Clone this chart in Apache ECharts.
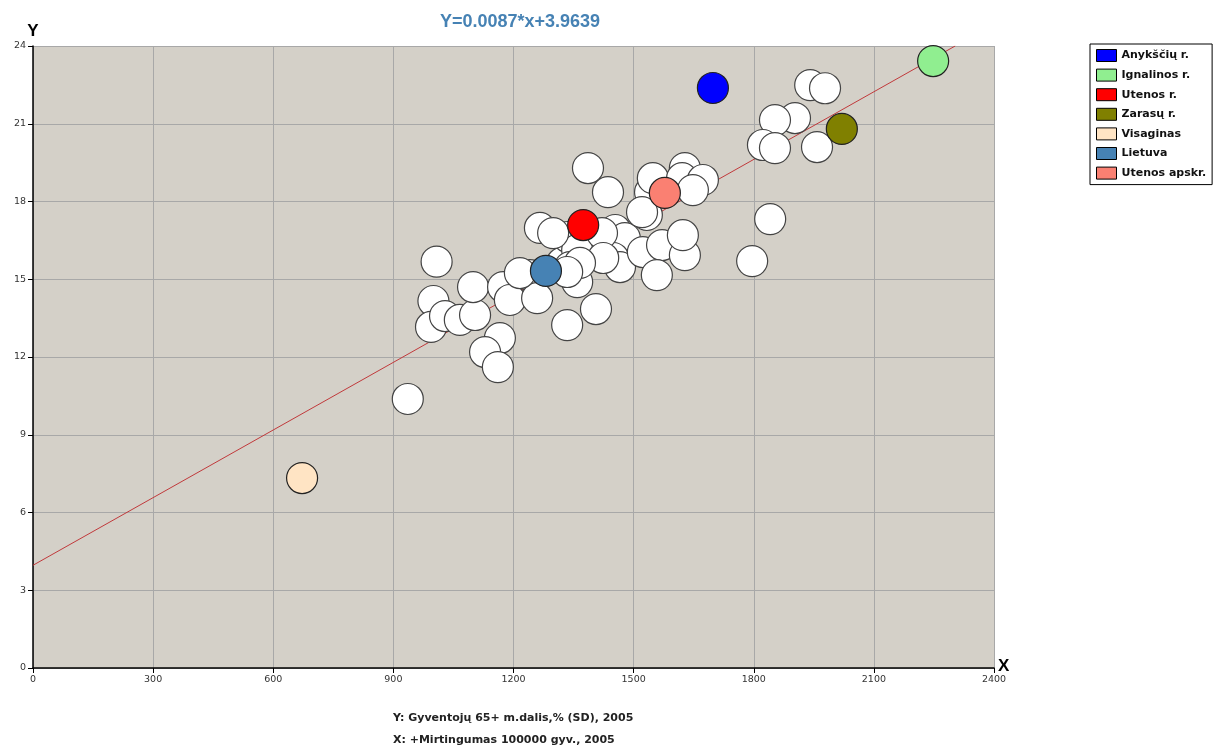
<!DOCTYPE html>
<html>
<head>
<meta charset="utf-8">
<script src="https://cdn.jsdelivr.net/npm/echarts@6/dist/echarts.min.js"></script>
<style>
html,body{margin:0;padding:0;background:#fff;}
#chart{width:1223px;height:748px;}
</style>
</head>
<body>
<div id="chart"></div>
<script>
// ---- data ----
const titleText = 'Y=0.0087*x+3.9639';
const xTitle = 'X: +Mirtingumas 100000 gyv., 2005';
const yTitle = 'Y: Gyventojų 65+ m.dalis,% (SD), 2005';
const xAxisName = 'X';
const yAxisName = 'Y';

const otherPoints = [
  [936, 10.38], [1008, 15.68], [1000, 14.16], [994, 13.16], [1029, 13.58],
  [1066, 13.43], [1104, 13.62], [1099, 14.70], [1174, 14.70], [1191, 14.20],
  [1166, 12.73], [1129, 12.19], [1161, 11.61], [1241, 15.16], [1259, 14.27],
  [1266, 16.98], [1334, 13.23], [1406, 13.85], [1359, 14.89], [1321, 15.63],
  [1336, 16.63], [1386, 19.29], [1436, 18.36], [1454, 16.90], [1478, 16.59],
  [1449, 15.82], [1466, 15.47], [1523, 16.05], [1571, 16.32], [1628, 15.93],
  [1623, 16.70], [1558, 15.16], [1533, 17.48], [1541, 18.36], [1548, 18.90],
  [1628, 19.29], [1621, 18.90], [1673, 18.83], [1648, 18.44], [1359, 16.13],
  [1341, 15.47], [1216, 15.24], [1941, 22.49], [1978, 22.37], [1903, 21.22],
  [1853, 21.14], [1823, 20.18], [1853, 20.06], [1958, 20.10], [1841, 17.32],
  [1796, 15.70], [1299, 16.78], [1421, 16.78], [1424, 15.82], [1366, 15.63],
  [1521, 17.59], [1334, 15.28]
];

const highlightNames = ['Anykščių r.', 'Ignalinos r.', 'Utenos r.', 'Zarasų r.', 'Visaginas', 'Lietuva', 'Utenos apskr.'];
const highlightValues = [[1698, 22.38], [2248, 23.42], [1374, 17.09], [2020, 20.80], [672, 7.33], [1281, 15.32], [1578, 18.33]];
const highlightColors = ['#0000ff', '#90ee90', '#ff0000', '#808000', '#ffe4c4', '#4682b4', '#fa8072'];

const trendLine = [[0, 3.9639], [2303, 24.0]];

const xTicks = { min: 0, max: 2400, interval: 300 };
const yTicks = { min: 0, max: 24, interval: 3 };

// ---- chart ----
const chart = echarts.init(document.getElementById('chart'), null, { renderer: 'canvas' });
const FONT = 'DejaVu Sans';
const SYM = 31;

const series = [
  {
    type: 'line', data: trendLine, showSymbol: false, symbol: 'none', silent: true,
    lineStyle: { color: '#c0393b', width: 1 }, z: 1, animation: false
  },
  {
    type: 'scatter', name: 'other', data: otherPoints, symbolSize: SYM,
    itemStyle: { color: '#ffffff', borderColor: '#444', borderWidth: 1.2, opacity: 1 }, z: 2, animation: false
  }
];
highlightNames.forEach((n, i) => {
  series.push({
    type: 'scatter', name: n, data: [highlightValues[i]], symbolSize: SYM,
    itemStyle: { color: highlightColors[i], borderColor: '#222', borderWidth: 1.2, opacity: 1 }, z: 3, animation: false
  });
});

const plain = v => String(v);

chart.setOption({
  animation: false,
  backgroundColor: '#ffffff',
  title: {
    text: titleText, left: 515, top: 8, textAlign: 'center',
    textStyle: { color: '#4682b4', fontSize: 18, fontWeight: 'bold', fontFamily: 'Liberation Sans' }
  },
  grid: { left: 33, right: 229, top: 46, bottom: 80, show: true, backgroundColor: '#d4d0c8', borderWidth: 0 },
  legend: {
    data: highlightNames, orient: 'vertical', left: 1090, top: 44,
    icon: 'rect', itemWidth: 20, itemHeight: 12, itemGap: 6.6,
    padding: [5, 6, 5, 6],
    backgroundColor: '#ffffff', borderColor: '#000', borderWidth: 1, borderRadius: 0,
    itemStyle: { borderColor: '#000', borderWidth: 1 },
    textStyle: { fontFamily: FONT, fontSize: 11, fontWeight: 'bold', color: '#111', padding: [0, 0, 0, 0] }
  },
  xAxis: {
    type: 'value', min: xTicks.min, max: xTicks.max, interval: xTicks.interval,
    axisLine: { show: true, onZero: false, lineStyle: { color: '#000', width: 1.5 } },
    axisTick: { show: true, length: 5, lineStyle: { color: '#000' } },
    axisLabel: { fontSize: 9.5, color: '#333', fontFamily: FONT, margin: 7, formatter: plain },
    splitLine: { show: true, lineStyle: { color: '#a8a8a8', width: 1 } }
  },
  yAxis: {
    type: 'value', min: yTicks.min, max: yTicks.max, interval: yTicks.interval,
    name: yAxisName, nameLocation: 'end', nameGap: 6,
    nameTextStyle: { fontSize: 17, fontWeight: 'bold', color: '#000', fontFamily: 'Liberation Sans', align: 'center', padding: [0, 0, 0, 0] },
    axisLine: { show: true, onZero: false, lineStyle: { color: '#000', width: 1.5 } },
    axisTick: { show: true, length: 5, lineStyle: { color: '#000' } },
    axisLabel: { fontSize: 9.5, color: '#333', fontFamily: FONT, margin: 7, formatter: plain },
    splitLine: { show: true, lineStyle: { color: '#a8a8a8', width: 1 } }
  },
  graphic: [
    { type: 'text', left: 998, top: 658, style: { text: xAxisName, fontFamily: 'Liberation Sans', fontSize: 17, fontWeight: 'bold', fill: '#000' } },
    { type: 'text', left: 393, top: 713, style: { text: yTitle, fontFamily: FONT, fontSize: 11, fontWeight: 'bold', fill: '#222' } },
    { type: 'text', left: 393, top: 735, style: { text: xTitle, fontFamily: FONT, fontSize: 11, fontWeight: 'bold', fill: '#222' } }
  ],
  series: series
});
</script>
</body>
</html>
